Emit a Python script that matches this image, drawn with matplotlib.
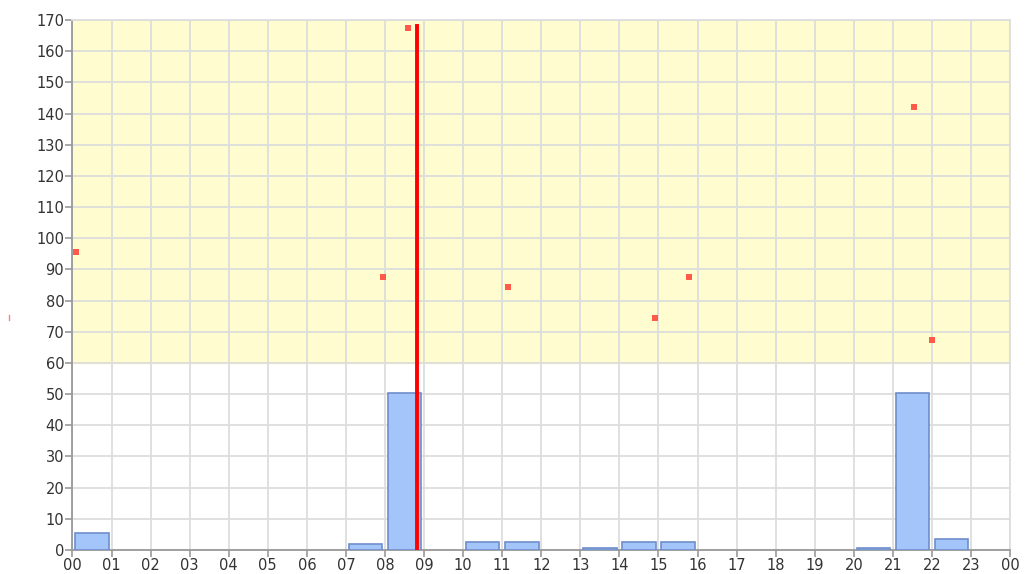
import matplotlib
matplotlib.use("Agg")
import matplotlib.pyplot as plt
from matplotlib.lines import Line2D

# hourly bars (start hour, value)
bar_hours = [0, 7, 8, 10, 11, 13, 14, 15, 20, 21, 22]
bar_values = [5.5, 2, 50.5, 2.5, 2.5, 0.5, 2.5, 2.5, 0.5, 50.5, 3.5]

# red readings (hour of day, value)
point_hours = [0.08, 7.96, 8.58, 11.14, 14.9, 15.78, 21.55, 21.99]
point_values = [95.5, 87.5, 167.5, 84.5, 74.5, 87.5, 142.0, 67.5]

marker_hour = 8.81
marker_top = 168
band_low, band_high = 60, 170

hour_labels = [f"{h % 24:02d}" for h in range(25)]

fig = plt.figure(figsize=(10.25, 5.74), dpi=100)
ax = fig.add_axes([0.0707, 0.0418, 0.9147, 0.9234])

ax.axhspan(band_low, band_high, color="#fffdd0", zorder=0)
ax.set_xlim(0, 24)
ax.set_ylim(0, 170)
ax.set_xticks(range(25))
ax.set_xticklabels(hour_labels)
ax.set_yticks(range(0, 171, 10))
ax.grid(True, color="#dddddd", linewidth=1.3, zorder=1)
ax.set_axisbelow(True)

ax.bar([h + 0.5 for h in bar_hours], bar_values, width=0.86,
       color="#a3c5fa", edgecolor="#6f8ecb", linewidth=1.2, zorder=3)
ax.scatter(point_hours, point_values, marker="s", s=22, color="#ff5a4a",
           linewidths=0, zorder=4)
ax.plot([marker_hour, marker_hour], [0, marker_top], color="#ff0000",
        linewidth=2.8, zorder=5)

for side in ("top", "right"):
    ax.spines[side].set_color("#dddddd")
    ax.spines[side].set_linewidth(1.3)
for side in ("left", "bottom"):
    ax.spines[side].set_color("#999999")
    ax.spines[side].set_linewidth(1.3)
ax.tick_params(colors="#999999", labelcolor="#333333", labelsize=10.5,
               length=5, width=1.2, pad=1)

fig.add_artist(Line2D([0.0088, 0.0088], [1 - 320 / 574, 1 - 315 / 574],
                      color="#ff8080", linewidth=1))

fig.savefig("out.png", dpi=100)
